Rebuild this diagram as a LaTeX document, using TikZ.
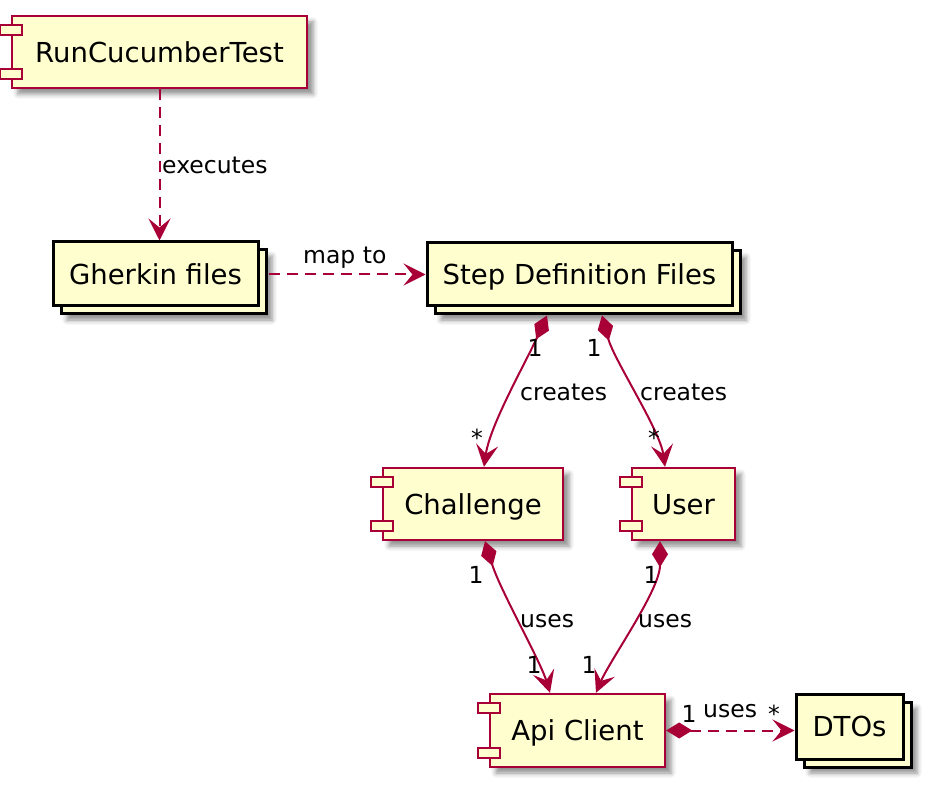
\documentclass[tikz,border=0pt]{standalone}
\usepackage{fontspec}
\setmainfont{DejaVu Sans}
\usetikzlibrary{arrows.meta,shadows,shadows.blur,calc}
\definecolor{cream}{HTML}{FEFECE}
\definecolor{umlred}{HTML}{A80036}
\newcommand{\comptabs}[1]{%
  \draw[tabst] ($(#1.north west)+(-11,10)$) rectangle ++(22,10);
  \draw[tabst] ($(#1.south west)+(-11,-20)$) rectangle ++(22,10);
}
\tikzset{
  boxfont/.style={font=\fontsize{27.5}{32}\selectfont, text height=20.5pt, text depth=0pt},
  comp/.style={rectangle, boxfont, draw=umlred, fill=cream, line width=2.4pt, inner sep=0pt,
    blur shadow={shadow xshift=6pt, shadow yshift=-6pt, shadow blur radius=5pt, shadow opacity=45}},
  coll/.style={rectangle, boxfont, draw=black, fill=cream, line width=3pt, inner sep=0pt,
    blur shadow={shadow xshift=14pt, shadow yshift=-14pt, shadow blur radius=5pt, shadow opacity=45},
    copy shadow={shadow xshift=8pt, shadow yshift=-8pt}},
  tabst/.style={draw=umlred, fill=cream, line width=2.4pt},
  lbl/.style={font=\fontsize{23.5}{28}\selectfont, inner sep=0pt},
  conn/.style={draw=umlred, line width=2pt, -{Stealth[length=22pt,width=22pt,inset=9pt]}},
  dconn/.style={conn, dash pattern=on 11pt off 7pt},
  cconn/.style={conn, {Diamond[length=26pt,width=16pt]}-{Stealth[length=22pt,width=22pt,inset=9pt]}},
}
\begin{document}
\begin{tikzpicture}[x=1pt,y=-1pt]
\useasboundingbox (0,0) rectangle (930,786);

% nodes
\node[comp, minimum width=295pt, minimum height=72pt] (run) at (159.5,52) {RunCucumberTest};
\node[coll, minimum width=205pt, minimum height=64pt] (gh) at (155.5,274) {Gherkin files};
\node[coll, minimum width=305pt, minimum height=63pt] (sd) at (579.5,274.5) {Step Definition Files};
\node[comp, minimum width=180pt, minimum height=72pt] (ch) at (473,504) {Challenge};
\node[comp, minimum width=103pt, minimum height=72pt] (us) at (683.5,504) {User};
\node[comp, minimum width=175pt, minimum height=73pt] (api) at (577.5,730.5) {Api Client};
\node[coll, minimum width=107pt, minimum height=65pt] (dto) at (849.5,726.5) {DTOs};

\comptabs{run}
\comptabs{ch}
\comptabs{us}
\comptabs{api}

% connectors
\draw[dconn] (run.south) -- (run.south |- gh.north);
\draw[dconn] ($(gh.east)+(9,0.5)$) -- ($(gh.east -| sd.west)+(0,0.5)$);
\draw[cconn] ($(sd.south)+(-32.5,8)$) .. controls (525,364) and (490,425) .. ($(ch.north)+(11,0)$);
\draw[cconn] ($(sd.south)+(22.5,8)$) .. controls (614,360) and (660,430) .. ($(us.north)+(-18.5,0)$);
\draw[cconn] ($(ch.south)+(12,0)$) .. controls (500,590) and (540,660) .. ($(api.north)+(-27.5,0)$);
\draw[cconn] ($(us.south)+(-23.5,0)$) .. controls (660,590) and (610,660) .. ($(api.north)+(18.5,0)$);
\draw[cconn, dash pattern=on 11pt off 7pt] (api.east) -- (api.east -| dto.west);

% labels
\node[lbl, anchor=base west] (l1) at (162,174) {executes};
\node[lbl, anchor=base west] (l2) at (303,264) {map to};
\node[lbl, anchor=base] (l3) at (535,357) {1};
\node[lbl, anchor=base west] (l4) at (520,401) {creates};
\node[lbl, anchor=base] (l5) at (477,447) {*};
\node[lbl, anchor=base] (l6) at (594,357) {1};
\node[lbl, anchor=base west] (l7) at (640,401) {creates};
\node[lbl, anchor=base] (l8) at (654,447) {*};
\node[lbl, anchor=base] (l9) at (476,583) {1};
\node[lbl, anchor=base west] (l10) at (520,627) {uses};
\node[lbl, anchor=base] (l11) at (534,673) {1};
\node[lbl, anchor=base] (l12) at (651,583) {1};
\node[lbl, anchor=base west] (l13) at (638,627) {uses};
\node[lbl, anchor=base] (l14) at (589,673) {1};
\node[lbl, anchor=base] (l15) at (689,722) {1};
\node[lbl, anchor=base west] (l16) at (703,717) {uses};
\node[lbl, anchor=base] (l17) at (774,722) {*};
\end{tikzpicture}
\end{document}
